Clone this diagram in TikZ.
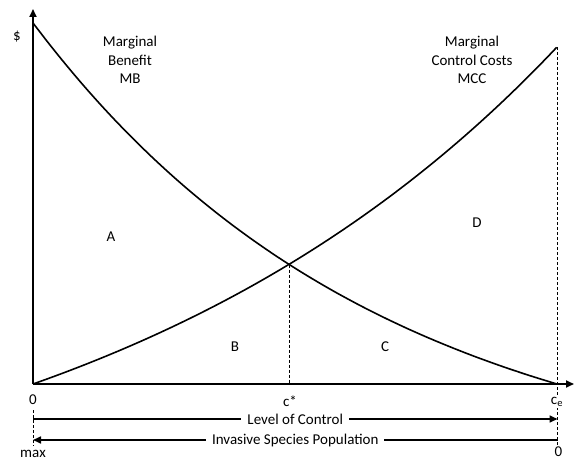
\documentclass[tikz,border=0pt]{standalone}
\usepackage{fontspec}
\setmainfont{Carlito}
\usetikzlibrary{arrows.meta}
\begin{document}
\begin{tikzpicture}[x=1pt,y=-1pt,
  axis/.style={line width=1.8pt,-{Triangle[length=8pt,width=7pt]}},
  curve/.style={line width=1.6pt},
  guide/.style={line width=0.9pt,dash pattern=on 3pt off 2pt},
  lbl/.style={font=\fontsize{15}{18.5}\selectfont,inner sep=0pt,align=center},
  band/.style={line width=1.6pt},
  bandtxt/.style={font=\fontsize{15}{18.5}\selectfont,fill=white,inner xsep=6pt,inner ysep=1pt}]
\useasboundingbox (0,0) rectangle (576,460);
% key coordinates
\coordinate (O) at (33,384);
\coordinate (ytop) at (33,9);
\coordinate (xend) at (574,384);
\coordinate (I) at (289.5,264.5);
\coordinate (Ibase) at (289.5,384);
\coordinate (MCCend) at (557.5,47);
\coordinate (Ebottom) at (557.5,446);
\coordinate (Ltop) at (33,410);
\coordinate (Lbot) at (33,446);
\coordinate (LCl) at (33,419);
\coordinate (LCr) at (557.5,419);
\coordinate (ISl) at (33,440);
\coordinate (ISr) at (557.5,440);
% guides
\draw[guide] (MCCend) -- (Ebottom);
\draw[guide] (I) -- (Ibase);
\draw[guide] (Ltop) -- (Lbot);
% curves
\draw[curve] plot[domain=0:1,samples=80,smooth] ({33+524*\x},{384-361*(exp(-1.5*\x)-exp(-1.5))/(1-exp(-1.5))});
\draw[curve] plot[domain=0:1,samples=80,smooth] ({33+524*\x},{384-337*(exp(1.1*\x)-1)/(exp(1.1)-1)});
% axes
\draw[axis] (O) -- (ytop);
\draw[axis] (O) -- (xend);
% labels
\node[lbl] (dollar) at (17,37) {\$};
\node[lbl] (mb) at (130,60) {Marginal\\Benefit\\MB};
\node[lbl] (mcc) at (472,60) {Marginal\\Control Costs\\MCC};
\node[lbl] (A) at (111,237) {A};
\node[lbl] (B) at (235,347) {B};
\node[lbl] (C) at (385,347) {C};
\node[lbl] (D) at (477,223) {D};
\node[lbl] (zero) at (33,400) {0};
\node[lbl] (cstar) at (290,401) {c*};
\node[lbl,fill=white,inner sep=1pt] (ce) at (557,402) {c\textsubscript{e}};
\node[lbl] (max) at (33,454) {max};
\node[lbl] (zero2) at (558.5,452) {0};
% bands
\draw[band,-{Triangle[length=8pt,width=7pt]}] (LCl) -- (LCr) node[bandtxt,midway] (loc) {Level of Control};
\draw[band,-{Triangle[length=8pt,width=7pt]}] (ISr) -- (ISl) node[bandtxt,midway] (isp) {Invasive Species Population};
\end{tikzpicture}
\end{document}
